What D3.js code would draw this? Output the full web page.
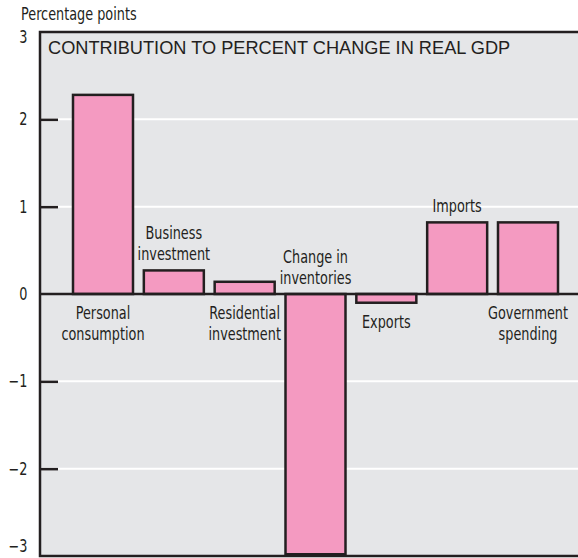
<!DOCTYPE html>
<html>
<head>
<meta charset="utf-8">
<script src="https://cdn.jsdelivr.net/npm/d3@7/dist/d3.min.js"></script>
<style>
  html, body { margin: 0; padding: 0; background: #fff; }
  svg { display: block; }
</style>
</head>
<body>
<script>
// ---- data ----
const categories = [
  ["Personal", "consumption"],
  ["Business", "investment"],
  ["Residential", "investment"],
  ["Change in", "inventories"],
  ["Exports"],
  ["Imports"],
  ["Government", "spending"]
];
const values = [2.28, 0.27, 0.14, -2.98, -0.10, 0.82, 0.82];
const yTicks = [-3, -2, -1, 0, 1, 2, 3];
const title = "CONTRIBUTION TO PERCENT CHANGE IN REAL GDP";
const unitLabel = "Percentage points";

// ---- layout ----
const W = 578, H = 558;
const plot = { left: 40, top: 32, right: 578, bottom: 556 };
const narrow = "'DejaVu Sans Condensed', 'Liberation Sans Narrow', 'Arial Narrow', sans-serif";
const SX = 0.84; // horizontal squeeze to mimic a condensed face
const ink = "#231f20";

const svg = d3.select("body").append("svg").attr("width", W).attr("height", H);

const y = d3.scaleLinear().domain([-3, 3]).range([plot.bottom, plot.top]);
const x = d3.scaleBand()
  .domain(d3.range(categories.length))
  .range([73, 558])
  .paddingInner(0.153)
  .paddingOuter(0);

function narrowText(parent, px, py, str, anchor, size) {
  return parent.append("text")
    .attr("transform", `translate(${px},${py}) scale(${SX},1)`)
    .attr("font-family", narrow).attr("font-size", size || 17).attr("fill", ink)
    .attr("text-anchor", anchor || "start")
    .text(str);
}

// background
svg.append("rect")
  .attr("x", plot.left).attr("y", plot.top)
  .attr("width", plot.right - plot.left).attr("height", plot.bottom - plot.top)
  .attr("fill", "#e5e6e8");

// gridlines
svg.append("g").selectAll("line")
  .data(yTicks.filter(d => d !== 0 && d !== 3 && d !== -3))
  .join("line")
  .attr("x1", plot.left).attr("x2", plot.right)
  .attr("y1", d => y(d)).attr("y2", d => y(d))
  .attr("stroke", "#ffffff").attr("stroke-width", 2);

// y axis ticks
const yAxis = d3.axisLeft(y).tickValues(yTicks).tickSize(0).tickPadding(0)
  .tickFormat(d3.format("d"));
const gy = svg.append("g").attr("transform", `translate(${plot.left},0)`).call(yAxis);
gy.select(".domain").remove();
gy.selectAll("text")
  .attr("x", 0)
  .attr("transform", `translate(-12.5,0) scale(${SX},1)`)
  .attr("font-family", narrow).attr("font-size", 17).attr("fill", ink);
gy.selectAll(".tick").filter(d => d === 3).select("text").attr("dy", "0.6em");
gy.selectAll(".tick").filter(d => d === -3).select("text").attr("dy", "-0.25em");
gy.selectAll(".tick").filter(d => d !== 3 && d !== -3 && d !== 0)
  .append("line").attr("x1", 0).attr("x2", 18)
  .attr("stroke", ink).attr("stroke-width", 2.5);

// bars
svg.append("g").selectAll("rect")
  .data(values)
  .join("rect")
  .attr("x", (d, i) => x(i))
  .attr("width", x.bandwidth())
  .attr("y", d => y(Math.max(0, d)))
  .attr("height", d => Math.abs(y(d) - y(0)))
  .attr("fill", "#f49ac1")
  .attr("stroke", ink).attr("stroke-width", 2.5);

// zero line
svg.append("line")
  .attr("x1", plot.left).attr("x2", plot.right)
  .attr("y1", y(0)).attr("y2", y(0))
  .attr("stroke", ink).attr("stroke-width", 2.5);

// frame: left, top, bottom
svg.append("path")
  .attr("d", `M${plot.right},${plot.top}H${plot.left}V${plot.bottom}H${plot.right}`)
  .attr("fill", "none").attr("stroke", ink).attr("stroke-width", 2.5);

// category labels (alternating below / above)
const lineH = 21;
const lg = svg.append("g");
categories.forEach((lines, i) => {
  const cx = x(i) + x.bandwidth() / 2;
  const v = values[i];
  if (i % 2 === 0) {
    const top = Math.max(y(0), y(v)) + 25;
    lines.forEach((ln, k) => narrowText(lg, cx, top + k * lineH, ln, "middle"));
  } else {
    const bottom = Math.min(y(0), y(v)) - 10;
    const n = lines.length;
    lines.forEach((ln, k) => narrowText(lg, cx, bottom - (n - 1 - k) * lineH, ln, "middle"));
  }
});

// title
svg.append("text")
  .attr("x", 48).attr("y", 54)
  .attr("font-family", "'Liberation Sans', Arial, sans-serif")
  .attr("font-size", 18.2).attr("fill", ink)
  .text(title);

// unit label
narrowText(svg, 21, 20, unitLabel, "start", 17);
</script>
</body>
</html>
